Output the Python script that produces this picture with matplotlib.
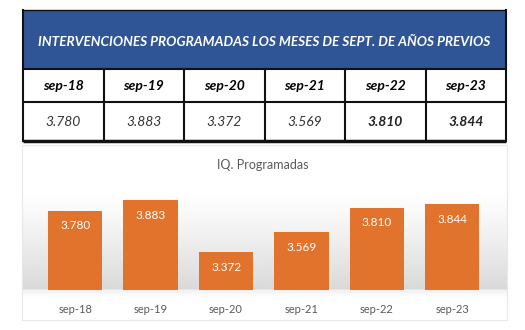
import matplotlib
matplotlib.use("Agg")
import matplotlib.pyplot as plt
import numpy as np
from matplotlib.patches import Rectangle
from matplotlib import font_manager

categories = ["sep-18", "sep-19", "sep-20", "sep-21", "sep-22", "sep-23"]
values = [3.780, 3.883, 3.372, 3.569, 3.810, 3.844]
value_labels = ["3.780", "3.883", "3.372", "3.569", "3.810", "3.844"]
bold_values = [False, False, False, False, True, True]
table_title = "INTERVENCIONES PROGRAMADAS LOS MESES DE SEPT. DE AÑOS PREVIOS"
chart_title = "IQ. Programadas"

FONT = ["Lato", "DejaVu Sans"]

W, H = 525, 330
fig = plt.figure(figsize=(W / 100, H / 100), dpi=100)
fig.patch.set_facecolor("white")

# pixel-coordinate overlay axes
bg = fig.add_axes([0, 0, 1, 1], zorder=0)
bg.axis("off")

# chart background gradient
cx0, cx1, cy0, cy1, base = 22, 507, 145, 320, 290
ys = np.linspace(cy0, cy1, 200)
grad = np.ones((200, 1))
for i, y in enumerate(ys):
    if y < 190:
        grad[i, 0] = 1.0
    elif y <= base:
        grad[i, 0] = 1.0 - 0.15 * ((y - 190) / (base - 190)) ** 1.2
    else:
        grad[i, 0] = 1.0 - 0.06 * max(0, 1 - (y - base) / 8)
bg.imshow(grad, cmap="gray", vmin=0, vmax=1, extent=[cx0, cx1, cy1, cy0],
          aspect="auto", zorder=1, interpolation="bilinear")
bg.add_patch(Rectangle((cx0, cy0), cx1 - cx0, cy1 - cy0, fill=False,
                       ec="#e8e8e8", lw=0.8, zorder=2))
bg.set_xlim(0, W)
bg.set_ylim(H, 0)

# table
tx0, tx1 = 23, 506
ty0, ty1, ty2, ty3 = 10, 69, 102, 141
bg.add_patch(Rectangle((tx0, ty0), tx1 - tx0, ty1 - ty0, fc="#2F5597", ec="none", zorder=3))
bg.add_patch(Rectangle((tx0, ty1), tx1 - tx0, ty3 - ty1, fc="white", ec="none", zorder=3))
ncol = len(categories)
colw = (tx1 - tx0) / ncol
lc = "#111111"
for y, lw in [(ty0, 1.0), (ty1, 1.5), (ty2, 1.5), (ty3, 2.5)]:
    bg.plot([tx0, tx1], [y, y], color=lc, lw=lw, zorder=4, solid_capstyle="butt")
for i in range(ncol + 1):
    xx = tx0 + i * colw
    bg.plot([xx, xx], [ty1 if 0 < i < ncol else ty0, ty3], color=lc, lw=1.5, zorder=4)
bg.text((tx0 + tx1) / 2, (ty0 + ty1) / 2 + 2, table_title, color="white",
        fontsize=9.8, fontweight="bold", style="italic", ha="center", va="center",
        family=FONT, zorder=5)
for i, (c, v, b) in enumerate(zip(categories, value_labels, bold_values)):
    xc = tx0 + (i + 0.5) * colw
    bg.text(xc, (ty1 + ty2) / 2, c, color="black", fontsize=10, fontweight="bold",
            style="italic", ha="center", va="center", family=FONT, zorder=5)
    bg.text(xc, (ty2 + ty3) / 2, v, color="#222222" if b else "#333333", fontsize=10,
            fontweight="bold" if b else "normal", style="italic", ha="center",
            va="center", family=FONT, zorder=5)

# bar chart axes: x slots from 37.5 to 490 px, y from 3.0 at 290 px to 4.0 at 188 px
ax_left, ax_right = 37.5, 490
ax_bottom_px, ax_top_px = 290, 188.2
ax = fig.add_axes([ax_left / W, 1 - ax_bottom_px / H, (ax_right - ax_left) / W,
                   (ax_bottom_px - ax_top_px) / H], zorder=6)
ax.patch.set_alpha(0)
x = np.arange(len(categories))
ax.bar(x, [v - 3.0 for v in values], bottom=3.0, width=0.72, color="#E2732C",
       edgecolor="none", zorder=3)
ax.set_xlim(-0.5, len(categories) - 0.5)
ax.set_ylim(3.0, 4.0)
for s in ax.spines.values():
    s.set_visible(False)
ax.set_yticks([])
ax.set_xticks(x)
ax.set_xticklabels(categories, color="#595959", fontsize=8, family=FONT)
ax.tick_params(axis="x", length=0, pad=10)
for xi, v, lab in zip(x, values, value_labels):
    ax.annotate(lab, (xi, v), xytext=(0, -15), textcoords="offset pixels",
                ha="center", va="center", color="white", fontsize=8.5, family=FONT)

bg.text(263, 165, chart_title, color="#595959", fontsize=9, ha="center", va="center",
        family=FONT, zorder=5)

fig.savefig("out.png", dpi=100)
